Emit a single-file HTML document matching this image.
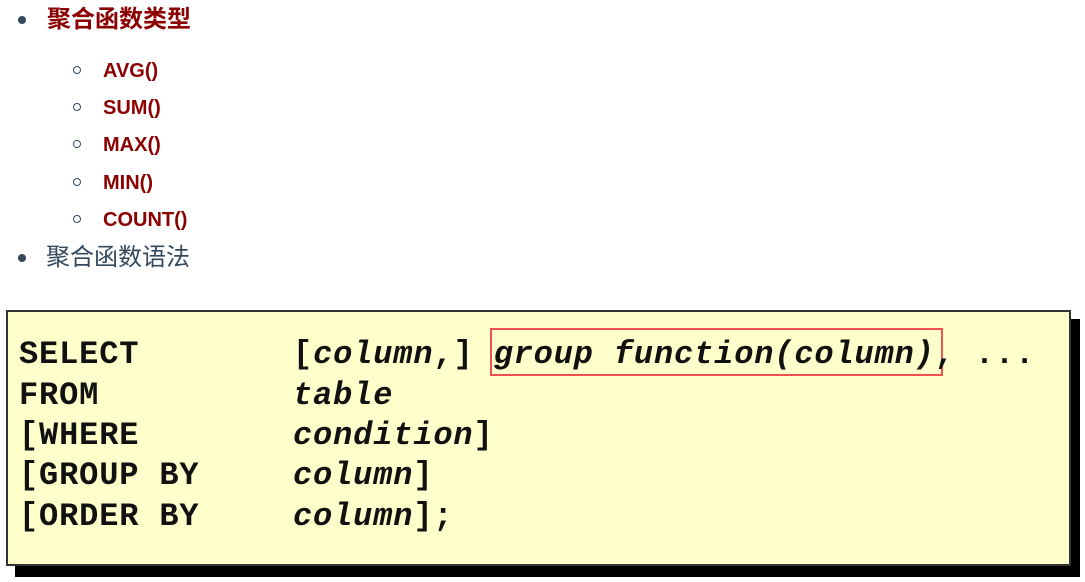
<!DOCTYPE html>
<html><head><meta charset="utf-8"><style>
body{margin:0;width:1085px;height:582px;background:#fff;position:relative;overflow:hidden;font-family:"Liberation Sans","Noto Sans CJK SC",sans-serif}
.t{position:absolute;white-space:nowrap}
.dot{position:absolute;width:8px;height:8px;border-radius:50%;background:#34495e}
.circ{position:absolute;width:6px;height:6px;border-radius:50%;border:1.8px solid #34495e}
.sub{position:absolute;left:103px;font-size:20px;font-weight:bold;color:#8b0000;line-height:20px}
.code{position:absolute;font-family:"Liberation Mono",monospace;font-weight:bold;font-size:32px;letter-spacing:0.85px;color:#111;line-height:32px;white-space:pre}
.i{font-style:italic}
</style></head><body>
<div class="dot" style="left:18px;top:16px"></div>
<div class="t" style="left:47px;top:5px;font-size:24px;font-weight:bold;color:#8b0000;line-height:30px">聚合函数类型</div>
<div class="circ" style="left:73px;top:66px"></div><div class="sub" style="top:61px">AVG()</div>
<div class="circ" style="left:73px;top:103px"></div><div class="sub" style="top:98px">SUM()</div>
<div class="circ" style="left:73px;top:140px"></div><div class="sub" style="top:135px">MAX()</div>
<div class="circ" style="left:73px;top:178px"></div><div class="sub" style="top:173px">MIN()</div>
<div class="circ" style="left:73px;top:215px"></div><div class="sub" style="top:210px">COUNT()</div>
<div class="dot" style="left:18px;top:254px"></div>
<div class="t" style="left:46px;top:243px;font-size:24px;color:#34495e;line-height:30px">聚合函数语法</div>

<div style="position:absolute;left:15px;top:319px;width:1065px;height:258px;background:#000"></div>
<div style="position:absolute;left:6px;top:310px;width:1061px;height:252px;background:#ffffcc;border:2px solid #333"></div>
<div style="position:absolute;left:490px;top:328px;width:449px;height:44px;border:2px solid #f05050"></div>

<div class="code" style="left:19px;top:339px">SELECT</div>
<div class="code" style="left:293px;top:339px">[<span class="i">column</span>,] <span class="i">group function(column)</span>, ...</div>
<div class="code" style="left:19px;top:380px">FROM</div>
<div class="code i" style="left:293px;top:380px">table</div>
<div class="code" style="left:19px;top:420px">[WHERE</div>
<div class="code" style="left:293px;top:420px"><span class="i">condition</span>]</div>
<div class="code" style="left:19px;top:460px">[GROUP BY</div>
<div class="code" style="left:293px;top:460px"><span class="i">column</span>]</div>
<div class="code" style="left:19px;top:501px">[ORDER BY</div>
<div class="code" style="left:293px;top:501px"><span class="i">column</span>];</div>
</body></html>
